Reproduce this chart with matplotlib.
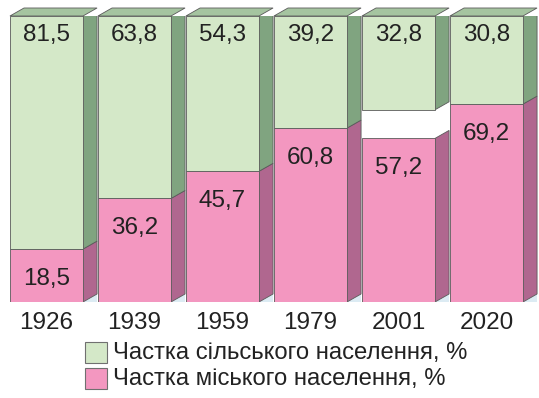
import matplotlib
matplotlib.use("Agg")
import matplotlib.pyplot as plt
from matplotlib.patches import Polygon, Rectangle

plt.rcParams["font.family"] = ["Liberation Sans", "DejaVu Sans"]

# Частка міського / сільського населення України, %
years = ["1926", "1939", "1959", "1979", "2001", "2020"]
urban = [18.5, 36.2, 45.7, 60.8, 57.2, 69.2]
rural = [81.5, 63.8, 54.3, 39.2, 32.8, 30.8]

GREEN_FRONT = "#d4e8c8"
GREEN_SIDE = "#80a480"
GREEN_TOP = "#a5c4a0"
PINK_FRONT = "#f397c0"
PINK_SIDE = "#b0678f"
EDGE = "#5a5a5a"
TEXT = "#222222"

BAR_W = 0.83     # ширина передньої грані
DX = 0.16        # глибина (по x)
DY = 2.8         # глибина (по y, у відсотках)

fig = plt.figure(figsize=(5.39, 3.98), dpi=100)
ax = fig.add_axes([0.0, 0.2412, 1.0, 0.7186])
ax.set_xlim(-0.528, 5.597)
ax.set_ylim(0, 100)
ax.axis("off")

xs = list(range(len(years)))

# передні грані
ax.bar(xs, urban, width=BAR_W, color=PINK_FRONT, edgecolor=EDGE, lw=0.6, zorder=3)
rural_bottom = [100 - r for r in rural]
ax.bar(xs, rural, bottom=rural_bottom, width=BAR_W, color=GREEN_FRONT,
       edgecolor=EDGE, lw=0.6, zorder=3)


def side_face(x, y0, y1, color):
    xr = x + BAR_W / 2
    pts = [(xr, y0), (xr + DX, y0 + DY), (xr + DX, y1 + DY), (xr, y1)]
    ax.add_patch(Polygon(pts, closed=True, facecolor=color, edgecolor=EDGE,
                         lw=0.6, zorder=2))


for x, u, rb in zip(xs, urban, rural_bottom):
    xl, xr = x - BAR_W / 2, x + BAR_W / 2
    # легка тінь під бічною гранню
    ax.add_patch(Polygon([(xr, 0), (xr + DX, 0), (xr + DX, DY)], closed=True,
                         facecolor="#dcebf3", edgecolor="none", zorder=1))
    side_face(x, 0, u, PINK_SIDE)
    side_face(x, rb, 100, GREEN_SIDE)
    # верхня грань
    ax.add_patch(Polygon([(xl, 100), (xl + DX, 100 + DY), (xr + DX, 100 + DY), (xr, 100)],
                         closed=True, facecolor=GREEN_TOP, edgecolor=EDGE, lw=0.6,
                         zorder=2, clip_on=False))

# підписи значень
for x, year, u, r in zip(xs, years, urban, rural):
    ax.text(x, 93.2, f"{r:.1f}".replace(".", ","), ha="center", va="center",
            fontsize=17.5, color=TEXT, zorder=5)
    ax.text(x, u - 10.5, f"{u:.1f}".replace(".", ","), ha="center", va="center",
            fontsize=17.5, color=TEXT, zorder=5)
    ax.text(x, -7.5, year, ha="center", va="center",
            fontsize=17.5, color=TEXT, clip_on=False)

# легенда
legend_items = [(GREEN_FRONT, "Частка сільського населення, %"),
                (PINK_FRONT, "Частка міського населення, %")]
for i, (c, label) in enumerate(legend_items):
    y_top = 1 - (342 + i * 25.5) / 398
    fig.patches.append(Rectangle((85 / 539, y_top - 21 / 398), 22 / 539, 21 / 398,
                                 transform=fig.transFigure, facecolor=c,
                                 edgecolor="#707070", lw=0.8))
    fig.text(113 / 539, y_top - 11 / 398, label, ha="left", va="center",
             fontsize=17.2, color=TEXT)

fig.savefig("out.png", dpi=100)
